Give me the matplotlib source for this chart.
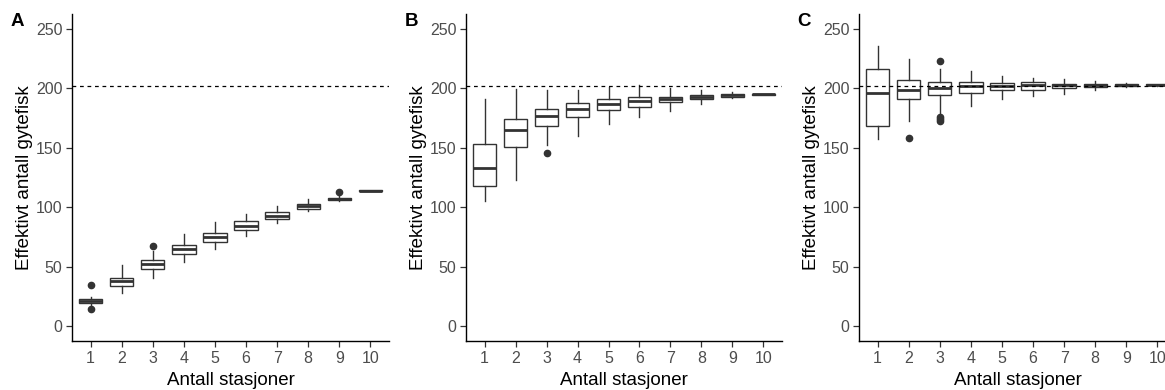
import matplotlib
matplotlib.use("Agg")
import matplotlib.pyplot as plt

plt.rcParams["font.family"] = ["Liberation Sans", "DejaVu Sans"]

stations = [1, 2, 3, 4, 5, 6, 7, 8, 9, 10]
ref_line = 202

# panel A
med_a = [21, 37.8, 52.4, 64.5, 75.1, 84.6, 93, 100.9, 107, 114]
q1_a = [19.1, 33.4, 48.2, 60.5, 70.9, 81, 90.2, 98.7, 106.2, 113.8]
q3_a = [22.7, 40.9, 56, 68.4, 78.5, 88.3, 95.9, 102.9, 107.9, 114.2]
lo_a = [18, 28, 40.6, 53.8, 64.5, 76.2, 87, 96.7, 105.5, 113.8]
hi_a = [24.4, 51, 63, 77.6, 87.4, 94.7, 101, 107, 109.3, 114.2]
fl_a = [[35, 14.3], [], [67.3], [], [], [], [], [], [113], []]

# panel B
med_b = [133, 164.8, 176.6, 183, 186.9, 189.5, 191.1, 193.1, 194, 195]
q1_b = [117.7, 150.8, 168.4, 175.7, 181.6, 184.7, 188.3, 190.6, 192.3, 194.8]
q3_b = [153.3, 174.3, 182.7, 187.5, 190.9, 193.1, 193.1, 194.2, 195, 195.2]
lo_b = [105, 122.5, 152.7, 159.8, 170.4, 176, 181.3, 186.4, 192, 194.8]
hi_b = [191, 199.8, 198.4, 199, 201, 202.4, 200, 198.4, 197, 195.2]
fl_b = [[], [], [145.7], [], [], [], [], [], [], []]

# panel C
med_c = [196.2, 198.2, 200.4, 201.8, 201.8, 203, 202.4, 202.7, 203, 203]
q1_c = [168.2, 190.6, 194, 196.2, 198.2, 198.7, 200.4, 201.3, 202, 202.6]
q3_c = [216.4, 206.6, 205.4, 204.9, 204.6, 204.9, 204, 204, 203.8, 203.6]
lo_c = [157.5, 172.4, 179.4, 185.5, 190.6, 193.4, 195.3, 199, 201.5, 202.3]
hi_c = [235.4, 224.8, 216.6, 214.4, 210.2, 208.8, 208, 206.3, 204.6, 203.9]
fl_c = [[], [158.4], [223, 176, 174.6, 172.6], [], [], [], [], [], [], []]

panels = [
    ("A", med_a, q1_a, q3_a, lo_a, hi_a, fl_a),
    ("B", med_b, q1_b, q3_b, lo_b, hi_b, fl_b),
    ("C", med_c, q1_c, q3_c, lo_c, hi_c, fl_c),
]

W, H = 1165, 390
fig = plt.figure(figsize=(W / 100, H / 100), dpi=100)

# axes boxes in pixels: left, right (top=14, bottom=341)
lefts = [72, 466, 859]
rights = [389, 782, 1176]
top, bottom = 14, 341

dark = "#333333"
for (lab, med, q1, q3, lo, hi, fl), l, r in zip(panels, lefts, rights):
    ax = fig.add_axes([l / W, 1 - bottom / H, (r - l) / W, (bottom - top) / H])
    stats = []
    for i in range(len(stations)):
        stats.append(dict(med=med[i], q1=q1[i], q3=q3[i],
                          whislo=lo[i], whishi=hi[i], fliers=fl[i]))
    ax.bxp(stats, positions=stations, widths=0.75, patch_artist=True,
           boxprops=dict(facecolor="white", edgecolor=dark, linewidth=1.0),
           medianprops=dict(color=dark, linewidth=2.0),
           whiskerprops=dict(color=dark, linewidth=1.0),
           capprops=dict(linewidth=0),
           flierprops=dict(marker="o", markerfacecolor=dark, markeredgecolor=dark,
                           markersize=4.5))
    ax.axhline(ref_line, color="black", linestyle=(0, (3, 3)), linewidth=0.9, zorder=5)

    ax.set_xlim(0.4, 10.6)
    ax.set_ylim(-12.5, 262.5)
    ax.set_yticks([0, 50, 100, 150, 200, 250])
    ax.set_xticks(stations)
    ax.set_xticklabels([str(s) for s in stations])
    for s in ["top", "right"]:
        ax.spines[s].set_visible(False)
    for s in ["left", "bottom"]:
        ax.spines[s].set_linewidth(1.0)
        ax.spines[s].set_color("black")
    ax.tick_params(length=4, width=0.9, color=dark, labelcolor="#4d4d4d",
                   labelsize=11.5, pad=3)
    ax.set_xlabel("Antall stasjoner", fontsize=13.5, color="black")
    ax.set_ylabel("Effektivt antall gytefisk", fontsize=13.5, color="black")
    ax.xaxis.set_label_coords(0.5, -31 / (bottom - top), transform=ax.transAxes)
    ax.yaxis.set_label_coords(-39 / (r - l), 0.5, transform=ax.transAxes)
    ax.text(-55 / (r - l), 1 - 7 / (bottom - top), lab, transform=ax.transAxes,
            fontsize=13.5, fontweight="bold", ha="center", va="center")

fig.savefig("out.png", dpi=100)
